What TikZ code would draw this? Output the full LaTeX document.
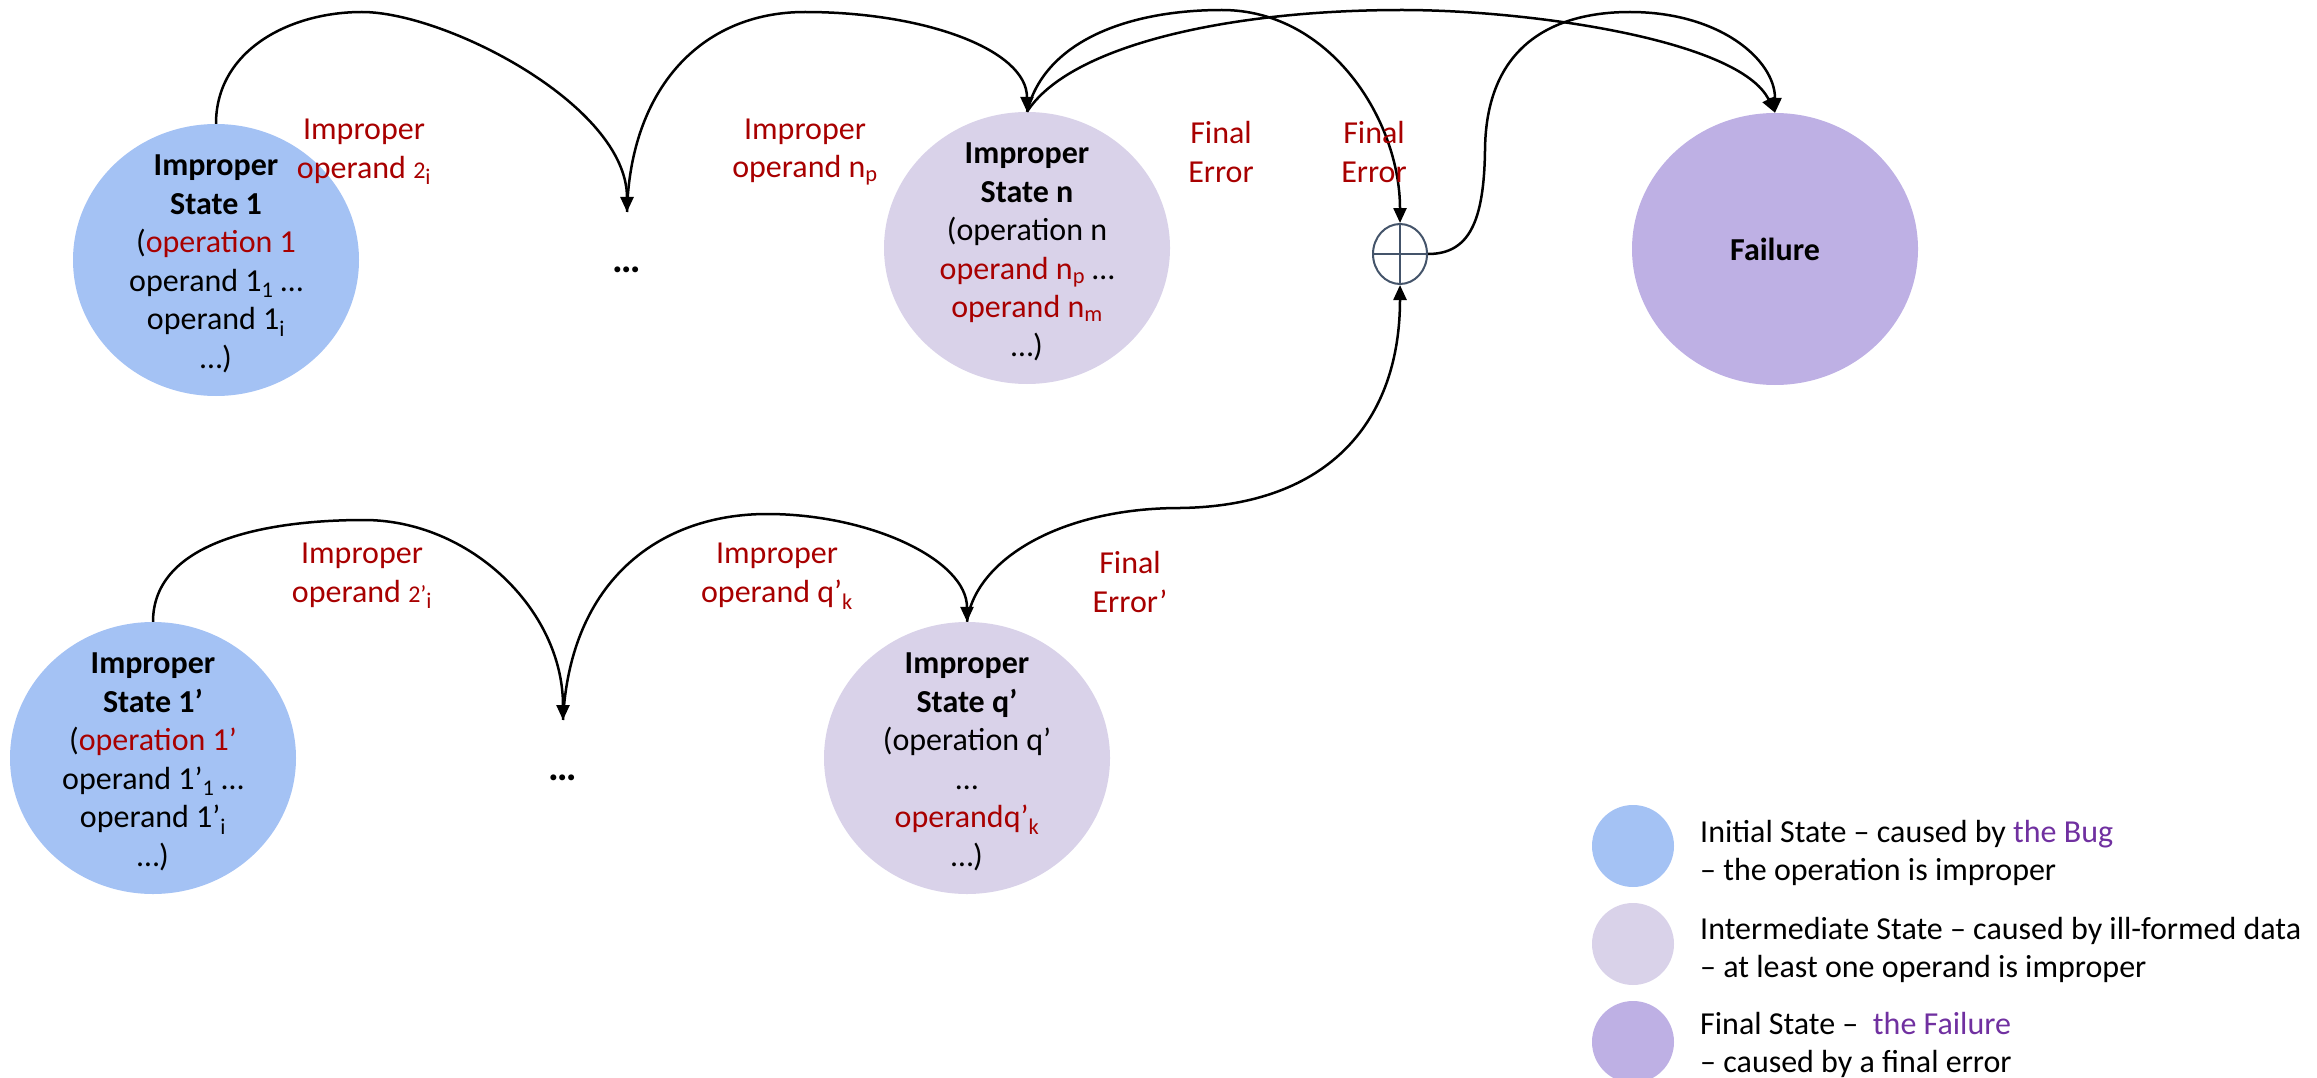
\documentclass[tikz,border=0pt]{standalone}
\usepackage{fontspec}
\setmainfont{Carlito}
\usetikzlibrary{arrows.meta,shapes.geometric}

\definecolor{initfill}{RGB}{164,194,244}
\definecolor{midfill}{RGB}{217,210,233}
\definecolor{failfill}{RGB}{190,176,228}
\definecolor{errred}{RGB}{168,0,0}
\definecolor{bugpurple}{RGB}{112,48,160}
\definecolor{joinblue}{RGB}{68,84,106}

\newcommand{\errtxt}[1]{\textcolor{errred}{#1}}
\newcommand{\bugtxt}[1]{\textcolor{bugpurple}{#1}}
\newcommand{\smallidx}{\fontsize{24}{24}\selectfont}

\begin{document}
\begin{tikzpicture}[x=1pt, y=-1pt,
  font=\fontsize{32}{38.5}\selectfont,
  state/.style={ellipse, minimum width=286pt, minimum height=272pt, inner sep=0pt},
  stxt/.style={align=center, inner sep=0pt},
  lbl/.style={align=center, inner sep=0pt, text=errred},
  dotsnode/.style={inner sep=0pt, font=\fontsize{40}{40}\selectfont\bfseries},
  flow/.style={line width=2.5pt, -{Triangle[length=15pt,width=13pt]}},
  swatch/.style={ellipse, minimum width=82pt, minimum height=82pt, inner sep=0pt},
  legtxt/.style={anchor=west, align=left, inner sep=0pt, font=\fontsize{32}{37.5}\selectfont}]

\useasboundingbox (0,0) rectangle (2317,1078);

% ---- states of the first chain ----
\node[state, fill=initfill] (s1) at (216,260) {};
\node[stxt] (s1t) at (216,264) {\textbf{Improper}\\\textbf{State 1}\\(\errtxt{operation 1}\\operand 1\textsubscript{1} …\\operand 1\textsubscript{i}\\…)};

\coordinate (d1) at (627,212);
\node[dotsnode] (dots1) at (627,270) {…};

\node[state, fill=midfill] (sn) at (1027,248) {};
\node[stxt] (snt) at (1027,252) {\textbf{Improper}\\\textbf{State n}\\(operation n\\\errtxt{operand n\textsubscript{p}} …\\\errtxt{operand n\textsubscript{m}}\\…)};

% ---- join of the final errors ----
\node[ellipse, draw=joinblue, line width=2pt, fill=white, minimum width=54pt, minimum height=60pt, inner sep=0pt] (op) at (1400,254) {};
\draw[joinblue, line width=2pt] (op.north) -- (op.south) (op.west) -- (op.east);

% ---- failure ----
\node[state, fill=failfill] (fail) at (1775,249) {};
\node[stxt] (failt) at (fail) {\textbf{Failure}};

% ---- states of the second chain ----
\node[state, fill=initfill] (s1b) at (153,758) {};
\node[stxt] (s1bt) at (153,762) {\textbf{Improper}\\\textbf{State 1’}\\(\errtxt{operation 1’}\\operand 1’\textsubscript{1} …\\operand 1’\textsubscript{i}\\…)};

\coordinate (d2) at (563,720);
\node[dotsnode] (dots2) at (563,778) {…};

\node[state, fill=midfill] (sq) at (967,758) {};
\node[stxt] (sqt) at (967,762) {\textbf{Improper}\\\textbf{State q’}\\(operation q’\\…\\\errtxt{operandq’\textsubscript{k}}\\…)};

% ---- transitions ----
\draw[flow] (s1.north) .. controls (216,50) and (290,12) .. (362,12)
            .. controls (445,12) and (627,105) .. (d1);
\draw[flow] (d1) .. controls (630,90) and (700,12) .. (805,12)
            .. controls (925,12) and (1027,50) .. (sn.north);
\draw[flow] (sn.north) .. controls (1045,40) and (1130,10) .. (1222,10)
            .. controls (1330,10) and (1400,120) .. (op.north);
\draw[flow] (sn.north) .. controls (1070,45) and (1230,10) .. (1402,10)
            .. controls (1530,10) and (1740,40) .. (fail.north);
\draw[flow] (op.east) .. controls (1470,254) and (1484,220) .. (1485,150)
            .. controls (1486,40) and (1560,12) .. (1630,12)
            .. controls (1720,12) and (1775,60) .. (fail.north);
\draw[flow] (sq.north) .. controls (975,560) and (1060,508) .. (1180,508)
            .. controls (1330,506) and (1400,420) .. (op.south);
\draw[flow] (s1b.north) .. controls (153,540) and (270,520) .. (364,520)
            .. controls (470,520) and (563,610) .. (d2);
\draw[flow] (d2) .. controls (570,580) and (660,514) .. (767,514)
            .. controls (870,514) and (967,560) .. (sq.north);

% ---- transition labels ----
\node[lbl] (l1) at (364,152) {Improper\\operand {\smallidx 2}\textsubscript{i}};
\node[lbl] (l2) at (805,152) {Improper\\operand n\textsubscript{p}};
\node[lbl] (l3) at (1221,152) {Final\\Error};
\node[lbl] (l4) at (1374,152) {Final\\Error};
\node[lbl] (l5) at (362,576) {Improper\\operand {\smallidx 2’}\textsubscript{i}};
\node[lbl] (l6) at (777,576) {Improper\\operand q’\textsubscript{k}};
\node[lbl] (l7) at (1130,582) {Final\\Error’};

% ---- legend ----
\node[swatch, fill=initfill] (k1) at (1633,846) {};
\node[legtxt] (k1t) at (1700,853) {Initial State – caused by \bugtxt{the Bug}\\– the operation is improper};
\node[swatch, fill=midfill] (k2) at (1633,944) {};
\node[legtxt] (k2t) at (1700,950) {Intermediate State – caused by ill-formed data\\– at least one operand is improper};
\node[swatch, fill=failfill] (k3) at (1633,1042) {};
\node[legtxt] (k3t) at (1700,1045) {Final State –\ \ \bugtxt{the Failure}\\– caused by a final error};

\end{tikzpicture}
\end{document}
